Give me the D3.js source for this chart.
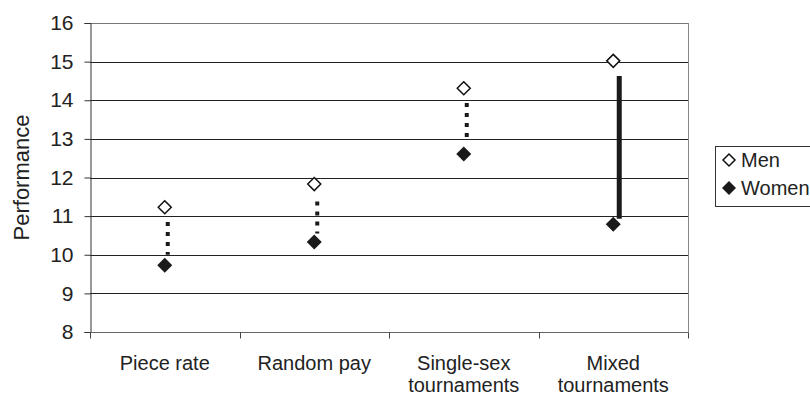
<!DOCTYPE html>
<html><head><meta charset="utf-8">
<script src="https://cdn.jsdelivr.net/npm/d3@7"></script>
<style>
html,body{margin:0;padding:0;background:#fff;}
svg{display:block;font-family:"Liberation Sans",Arial,Helvetica,sans-serif;}
</style></head>
<body><svg id="chart" width="810" height="398"></svg>
<script>
const categories = [["Piece rate"], ["Random pay"], ["Single-sex", "tournaments"], ["Mixed", "tournaments"]];
const men = [11.23, 11.83, 14.31, 15.02];
const women = [9.73, 10.33, 12.61, 10.79];
const gapTop = [10.85, 11.38, 13.93, 14.63];
const gapBottom = [10.0, 10.55, 12.9, 10.93];
const gapStyle = ["dotted", "dotted", "dotted", "solid"];
const yTicks = [8, 9, 10, 11, 12, 13, 14, 15, 16];
const seriesNames = ["Men", "Women"];

const svg = d3.select("#chart");
const mLeft = 90, mRight = 688, mTop = 23, mBottom = 332;
const x = d3.scaleBand().domain(d3.range(categories.length)).range([mLeft, mRight]);
const y = d3.scaleLinear().domain([8, 16]).range([mBottom, mTop]);

// gridlines
svg.append("g").selectAll("line").data(yTicks.filter(d => d > 8)).join("line")
  .attr("x1", mLeft).attr("x2", mRight)
  .attr("y1", d => Math.round(y(d)) + 0.5).attr("y2", d => Math.round(y(d)) + 0.5)
  .attr("stroke", d => d === 16 ? "#777" : "#222").attr("stroke-width", 1);
// right border
svg.append("line").attr("x1", mRight + 0.5).attr("x2", mRight + 0.5).attr("y1", y(16)).attr("y2", y(8))
  .attr("stroke", "#888");

// y axis
const yAxis = d3.axisLeft(y).tickValues(yTicks).tickSize(6).tickPadding(11).tickFormat(d3.format("d"));
const gy = svg.append("g").attr("transform", `translate(${mLeft + 0.5},0)`).call(yAxis);
gy.select(".domain").attr("stroke", "#333");
gy.selectAll(".tick line").attr("stroke", "#333");
gy.selectAll(".tick text").attr("font-size", 21).attr("fill", "#222").attr("font-family", "Liberation Sans, Arial, sans-serif");

// x axis
const gx = svg.append("g").attr("transform", `translate(0,${mBottom + 0.5})`);
gx.append("line").attr("x1", mLeft).attr("x2", mRight + 0.5).attr("stroke", "#666");
const bounds = d3.range(categories.length + 1).map(i => i < categories.length ? x(i) : x(i - 1) + x.bandwidth());
gx.selectAll("line.tk").data(bounds).join("line").attr("class", "tk")
  .attr("x1", d => Math.round(d) + 0.5).attr("x2", d => Math.round(d) + 0.5).attr("y1", 0).attr("y2", 6)
  .attr("stroke", "#444");
const lab = svg.append("g").selectAll("text").data(categories).join("text")
  .attr("text-anchor", "middle").attr("font-size", 20).attr("fill", "#222")
  .attr("transform", (d, i) => `translate(${x(i) + x.bandwidth() / 2},370)`);
lab.selectAll("tspan").data(d => d).join("tspan").attr("x", 0).attr("dy", (d, j) => j ? 22 : 0).text(d => d);

// y label
svg.append("text").attr("transform", `translate(29,${(mTop + mBottom) / 2}) rotate(-90)`)
  .attr("text-anchor", "middle").attr("font-size", 22).attr("fill", "#222").text("Performance");

// connectors
svg.append("g").selectAll("line").data(categories.map((c, i) => i)).join("line")
  .attr("x1", i => x(i) + x.bandwidth() / 2 + (gapStyle[i] === "solid" ? 6 : 3))
  .attr("x2", i => x(i) + x.bandwidth() / 2 + (gapStyle[i] === "solid" ? 6 : 3))
  .attr("y1", i => y(gapTop[i])).attr("y2", i => y(gapBottom[i]))
  .attr("stroke", "#1a1a1a")
  .attr("stroke-width", i => gapStyle[i] === "solid" ? 5 : 4)
  .attr("stroke-dasharray", i => gapStyle[i] === "solid" ? null : "4,6");

const diamond = r => `M0,${-r}L${r},0L0,${r}L${-r},0Z`;
// men markers
svg.append("g").selectAll("path").data(men).join("path")
  .attr("d", diamond(6.5))
  .attr("transform", (d, i) => `translate(${x(i) + x.bandwidth() / 2},${y(d)})`)
  .attr("fill", "#fff").attr("stroke", "#111").attr("stroke-width", 1.5);
// women markers
svg.append("g").selectAll("path").data(women).join("path")
  .attr("d", diamond(7.5))
  .attr("transform", (d, i) => `translate(${x(i) + x.bandwidth() / 2},${y(d)})`)
  .attr("fill", "#1a1a1a");

// legend
const lg = svg.append("g");
lg.append("rect").attr("x", 715.5).attr("y", 146.5).attr("width", 110).attr("height", 60)
  .attr("fill", "#fff").attr("stroke", "#333");
seriesNames.forEach((name, i) => {
  const cy = 160 + i * 28;
  lg.append("path").attr("d", diamond(i ? 7 : 6))
    .attr("transform", `translate(729,${cy})`)
    .attr("fill", i ? "#1a1a1a" : "#fff").attr("stroke", i ? "none" : "#111").attr("stroke-width", 1.5);
  lg.append("text").attr("x", 741).attr("y", cy + 7).attr("font-size", 20).attr("fill", "#222").text(name);
});
</script></body></html>
